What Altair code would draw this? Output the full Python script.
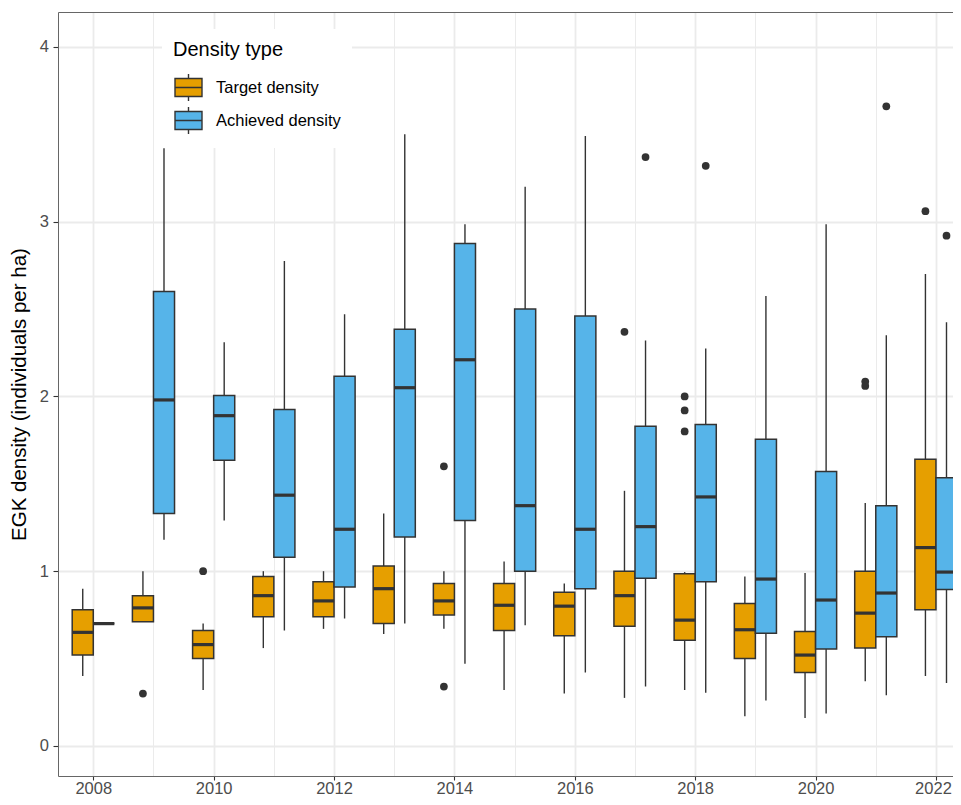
import altair as alt
import pandas as pd

# ---------------- data ----------------
years = list(range(2008, 2023))
types = ["Target density", "Achieved density"]

target_lo = [0.40, 0.71, 0.32, 0.56, 0.67, 0.64, 0.67, 0.32, 0.30, 0.275, 0.32, 0.17, 0.16, 0.37, 0.40]
target_q1 = [0.52, 0.71, 0.50, 0.74, 0.74, 0.70, 0.75, 0.66, 0.63, 0.685, 0.605, 0.50, 0.42, 0.56, 0.78]
target_med = [0.65, 0.79, 0.58, 0.86, 0.83, 0.90, 0.83, 0.805, 0.80, 0.86, 0.72, 0.665, 0.52, 0.76, 1.135]
target_q3 = [0.78, 0.86, 0.66, 0.97, 0.94, 1.03, 0.93, 0.93, 0.88, 1.00, 0.985, 0.815, 0.655, 1.00, 1.64]
target_hi = [0.90, 1.00, 0.70, 1.00, 1.00, 1.33, 1.00, 1.055, 0.93, 1.46, 0.995, 0.97, 0.99, 1.39, 2.70]

achieved_lo = [0.70, 1.18, 1.29, 0.66, 0.73, 0.70, 0.47, 0.69, 0.42, 0.34, 0.305, 0.26, 0.185, 0.29, 0.36]
achieved_q1 = [0.70, 1.33, 1.635, 1.08, 0.91, 1.195, 1.29, 1.00, 0.90, 0.96, 0.94, 0.645, 0.555, 0.625, 0.895]
achieved_med = [0.70, 1.98, 1.89, 1.435, 1.24, 2.05, 2.21, 1.375, 1.24, 1.255, 1.425, 0.955, 0.835, 0.875, 0.995]
achieved_q3 = [0.70, 2.60, 2.005, 1.925, 2.115, 2.385, 2.875, 2.50, 2.46, 1.83, 1.84, 1.755, 1.57, 1.375, 1.535]
achieved_hi = [0.70, 3.42, 2.31, 2.775, 2.47, 3.50, 2.985, 3.20, 3.49, 2.32, 2.275, 2.575, 2.985, 2.35, 2.425]

outlier_year = [2009, 2010, 2014, 2014, 2017, 2018, 2018, 2018, 2021, 2021, 2022,
                2017, 2018, 2021, 2022]
outlier_type = ["Target density"] * 11 + ["Achieved density"] * 4
outlier_value = [0.30, 1.00, 1.60, 0.34, 2.37, 2.00, 1.92, 1.80, 2.085, 2.06, 3.06,
                 3.37, 3.32, 3.66, 2.92]

# ---------------- tables ----------------
rows = []
for t, lo, q1, med, q3, hi in [
    (types[0], target_lo, target_q1, target_med, target_q3, target_hi),
    (types[1], achieved_lo, achieved_q1, achieved_med, achieved_q3, achieved_hi),
]:
    for i, yr in enumerate(years):
        rows.append(dict(year=yr, type=t, lo=lo[i], q1=q1[i], med=med[i], q3=q3[i], hi=hi[i]))
box_df = pd.DataFrame(rows)
pts_df = pd.DataFrame(dict(year=outlier_year, type=outlier_type, value=outlier_value))

FONT = "Liberation Sans"
DARK = "#333333"
BORDER = "#666666"
GRID = "#EBEBEB"

dodge = "datum.year + (datum.type === 'Target density' ? -0.175 : 0.175)"

xscale = alt.Scale(domain=[2007.414, 2022.283], nice=False, zero=False)
yscale = alt.Scale(domain=[-0.172, 4.2], nice=False, zero=False)
cscale = alt.Scale(domain=types, range=["#E69F00", "#56B4E9"])

xaxis = alt.Axis(
    values=list(range(2007, 2023)), format="d",
    labelExpr="datum.value % 2 === 0 ? datum.label : ''",
    title="", grid=True, gridColor=GRID,
    gridWidth={"condition": {"test": "datum.value % 2 !== 0", "value": 1.0}, "value": 1.8},
    tickOpacity={"condition": {"test": "datum.value % 2 !== 0", "value": 0}, "value": 1},
    tickColor=DARK, tickSize=4, tickWidth=1.1,
    labelColor="#4D4D4D", labelFontSize=16.5, labelFont=FONT, labelPadding=0,
    labelOffset={"condition": {"test": "datum.value === 2022", "value": -3}, "value": 0},
    labelFlush=False, labelOverlap=False,
    domainColor=BORDER, domainWidth=1,
)
yaxis = alt.Axis(
    values=[i * 0.5 for i in range(9)], format="d",
    labelExpr="datum.value % 1 === 0 ? datum.label : ''",
    title="EGK density (individuals per ha)", titleFont=FONT, titleFontSize=20.5,
    titleFontWeight="normal", titleColor="black", titlePadding=10,
    grid=True, gridColor=GRID,
    gridWidth={"condition": {"test": "datum.value % 1 !== 0", "value": 1.0}, "value": 1.8},
    tickOpacity={"condition": {"test": "datum.value % 1 !== 0", "value": 0}, "value": 1},
    tickColor=DARK, tickSize=5, tickWidth=1.1,
    labelColor="#4D4D4D", labelFontSize=16.5, labelFont=FONT, labelPadding=4.5,
    labelFlush=False, labelOverlap=False,
    domainColor=BORDER, domainWidth=1,
)
topaxis = alt.Axis(orient="top", labels=False, ticks=False, grid=False, domain=True,
                   domainColor=BORDER, domainWidth=1, title="")

legend_symbol = "M-1,-0.67H1V0.67H-1Z M-1,0H1 M0,-1V-0.67 M0,0.67V1"

base = alt.Chart(box_df).transform_calculate(center=dodge).transform_calculate(
    left="datum.center - 0.175", right="datum.center + 0.175")

whiskers = base.mark_rule(color=DARK, strokeWidth=1.4, clip=True).encode(
    x=alt.X("center:Q", scale=xscale, axis=xaxis),
    y=alt.Y("lo:Q", scale=yscale, axis=yaxis),
    y2="hi:Q",
)

boxes = base.mark_rect(stroke=DARK, strokeWidth=1.5, clip=True).encode(
    x=alt.X("left:Q", scale=xscale, axis=xaxis),
    x2="right:Q",
    y=alt.Y("q1:Q", scale=yscale, axis=yaxis),
    y2="q3:Q",
    color=alt.Color(
        "type:N", scale=cscale,
        legend=alt.Legend(
            title="Density type", orient="none", legendX=104, legendY=17,
            direction="vertical", fillColor="white", padding=11,
            titleFont=FONT, titleFontSize=20, titleFontWeight="normal", titleColor="black",
            titlePadding=13,
            labelFont=FONT, labelFontSize=16.5, labelColor="black", labelOffset=13,
            symbolType=legend_symbol, symbolSize=729, symbolStrokeColor=DARK,
            symbolStrokeWidth=1.4, symbolOffset=1, rowPadding=0,
        ),
    ),
)

medians = base.mark_rule(color=DARK, strokeWidth=3.2, clip=True).encode(
    x=alt.X("left:Q", scale=xscale, axis=xaxis),
    x2="right:Q",
    y=alt.Y("med:Q", scale=yscale, axis=yaxis),
)

points = alt.Chart(pts_df).transform_calculate(center=dodge).mark_circle(
    color=DARK, opacity=1, size=60, clip=True).encode(
    x=alt.X("center:Q", scale=xscale, axis=topaxis),
    y=alt.Y("value:Q", scale=yscale, axis=yaxis),
)

inner = alt.layer(whiskers, boxes, medians)
chart = alt.layer(inner, points).resolve_axis(x="independent").properties(
    width=895, height=764,
    autosize=alt.AutoSizeParams(type="none"),
    padding={"left": 50, "top": 4, "right": 0, "bottom": 21},
).configure(font=FONT, background="white").configure_view(strokeWidth=0)

chart.save("out.html", embed_options={"renderer": "svg", "actions": False})
